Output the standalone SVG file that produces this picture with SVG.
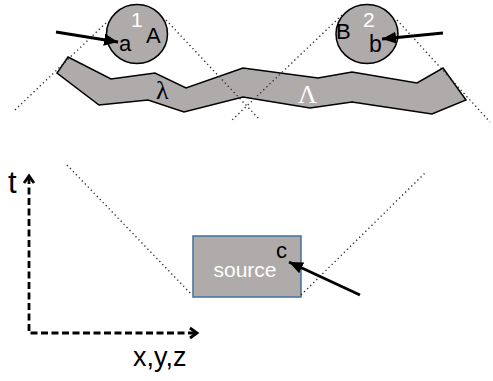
<svg xmlns="http://www.w3.org/2000/svg" width="493" height="381" viewBox="0 0 493 381">
<style>
.blob{fill:#afabab;stroke:#000;stroke-width:1.5}
.dot{fill:none;stroke:#333;stroke-width:1.4;stroke-dasharray:1.3 3}
.arr{fill:none;stroke:#000;stroke-width:2.8}
.axis{fill:none;stroke:#000;stroke-width:2.8;stroke-dasharray:7 3.5}
.chev{fill:none;stroke:#000;stroke-width:2.8}
.t{font-family:"Liberation Sans",Arial,sans-serif;fill:#000}
.w{fill:#fff}
.serif{font-family:"Liberation Serif","Times New Roman",serif}
</style>
<defs>
<marker id="ah" markerUnits="userSpaceOnUse" markerWidth="16" markerHeight="14" refX="14" refY="7" orient="auto">
<path d="M0,1 L14,7 L0,13 Z" fill="#000"/>
</marker>
</defs>
<rect width="493" height="381" fill="#fff"/>
<g id="band">
<polygon class="blob" points="68,57 111,79 155,73 186,88 243,68 318,78 352,72 417,83 443,68 466,100 432,114 352,102 310,108 243,97 184,112 148,100 99,105 57,73"/>
<text class="t serif" x="156" y="99" font-size="26">λ</text>
<text class="t serif w" x="298" y="103" font-size="26">Λ</text>
</g>
<g id="node1">
<ellipse class="blob" cx="137" cy="34" rx="30.5" ry="29.5"/>
<text class="t w" x="131" y="27" font-size="21">1</text>
<text class="t" x="146" y="43" font-size="22">A</text>
<text class="t" x="119" y="51" font-size="22">a</text>
</g>
<g id="node2">
<ellipse class="blob" cx="367" cy="34" rx="31" ry="29.5"/>
<text class="t" x="336" y="39" font-size="22">B</text>
<text class="t w" x="363" y="27" font-size="21">2</text>
<text class="t" x="369" y="52" font-size="23">b</text>
</g>
<g id="source">
<rect x="193" y="236" width="108" height="61" fill="#afabab" stroke="#41719c" stroke-width="1.5"/>
<text class="t w" x="245" y="277" font-size="21" text-anchor="middle">source</text>
<text class="t" x="276" y="258" font-size="22">c</text>
</g>
<g id="connectors">
<line class="dot" x1="15" y1="110" x2="108" y2="21"/>
<line class="dot" x1="166" y1="20" x2="260" y2="120"/>
<line class="dot" x1="342" y1="15" x2="230" y2="122"/>
<line class="dot" x1="397" y1="20" x2="490" y2="122"/>
<line class="dot" x1="67" y1="165" x2="192" y2="295"/>
<line class="dot" x1="301" y1="295" x2="426" y2="172"/>
<line class="arr" x1="56" y1="32" x2="118" y2="42" marker-end="url(#ah)"/>
<line class="arr" x1="443" y1="33" x2="382" y2="39" marker-end="url(#ah)"/>
<line class="arr" x1="360" y1="295" x2="289" y2="262" marker-end="url(#ah)"/>
</g>
<g id="axes">
<path class="axis" d="M29,177 V333 H196"/>
<polyline class="chev" points="24,183 29,176 34,183"/>
<polyline class="chev" points="190,328 197,333 190,338"/>
<text class="t" x="8" y="193" font-size="31">t</text>
<text class="t" x="133" y="366" font-size="27">x,y,z</text>
</g>
</svg>
